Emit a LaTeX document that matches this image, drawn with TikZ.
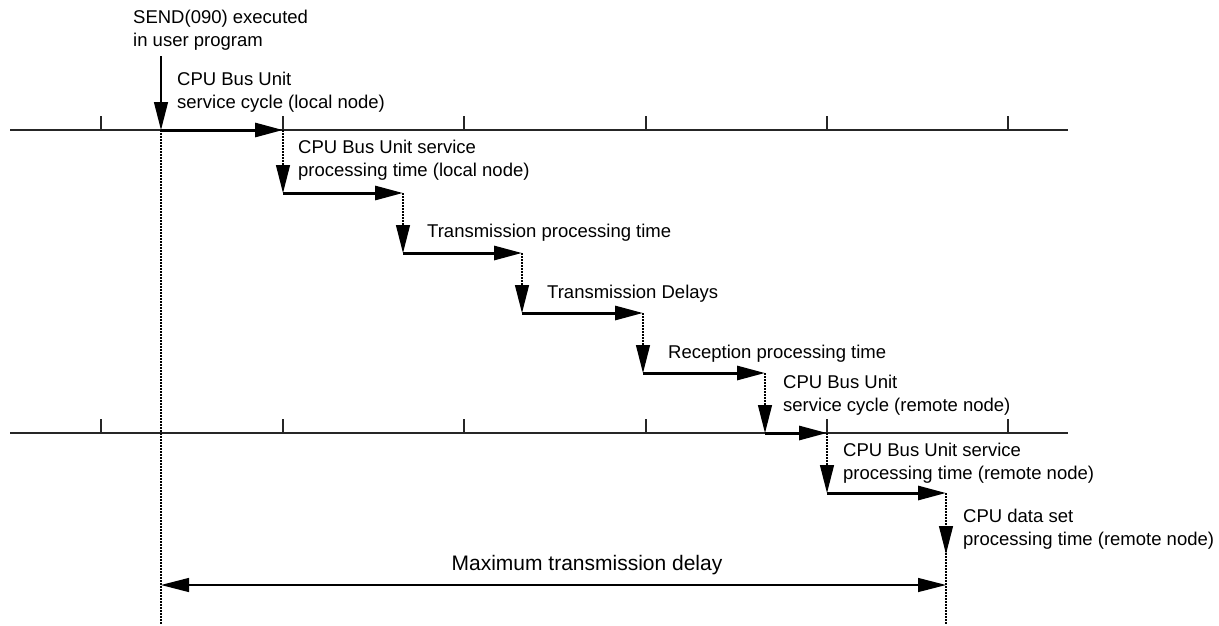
\documentclass[tikz,border=0pt]{standalone}
\usepackage{fontspec}
\setmainfont{Liberation Sans}
\usetikzlibrary{arrows.meta,positioning}
\tikzset{
  lbl/.style={anchor=base west,inner sep=0pt,align=left,font=\fontsize{18.5}{22.5}\selectfont},
  tline/.style={line width=1.3pt,black!85},
  stepline/.style={line width=3pt,-{Triangle[length=28pt,width=14pt]}},
  droparrow/.style={line width=1.2pt,dash pattern=on 1.5pt off 1.5pt,-{Triangle[length=28pt,width=14pt]}},
  guide/.style={line width=1.2pt,dash pattern=on 1.5pt off 1.5pt}
}

\begin{document}
\begin{tikzpicture}[x=1pt,y=-1pt]
  \useasboundingbox (0,0) rectangle (1219,625);
  % time axes
  \draw[tline] (10,130) -- (1068,130);
  \draw[tline] (10,433) -- (1068,433);
  \foreach \tx in {101,283,464,646,827,1008}{
    \draw[tline] (\tx,130) -- (\tx,116);
    \draw[tline] (\tx,433) -- (\tx,419);
  }
  % step points
  \coordinate (send) at (161,56);
  \coordinate (c0)  at (161,130);
  \coordinate (c1)  at (283,130);
  \coordinate (c1b) at (283,193);
  \coordinate (c2)  at (403,193);
  \coordinate (c2b) at (403,253);
  \coordinate (c3)  at (522,253);
  \coordinate (c3b) at (522,313);
  \coordinate (c4)  at (643,313);
  \coordinate (c4b) at (643,373);
  \coordinate (c5)  at (765,373);
  \coordinate (c5b) at (765,433);
  \coordinate (c6)  at (827,433);
  \coordinate (c6b) at (827,493);
  \coordinate (c7)  at (946,493);
  \coordinate (c7b) at (946,554);
  \coordinate (lowL) at (161,625);
  \coordinate (lowR) at (946,625);
  \coordinate (dL) at (161,585);
  \coordinate (dR) at (946,585);
  % labels (base = last line)
  \node[lbl] (sendlbl) at (133,46) {SEND(090) executed\\in user program};
  \node[lbl] (cyclocal) at (177,108) {CPU Bus Unit\\service cycle (local node)};
  \node[lbl] (svclocal) at (298,176) {CPU Bus Unit service\\processing time (local node)};
  \node[lbl] (txproc) at (427,237) {Transmission processing time};
  \node[lbl] (txdelay) at (547,298) {Transmission Delays};
  \node[lbl] (rxproc) at (668,358) {Reception processing time};
  \node[lbl] (cycremote) at (783,411) {CPU Bus Unit\\service cycle (remote node)};
  \node[lbl] (svcremote) at (843,479) {CPU Bus Unit service\\processing time (remote node)};
  \node[lbl] (dataset) at (963,545) {CPU data set\\processing time (remote node)};
  \node[anchor=base,inner sep=0pt,font=\fontsize{21}{25}\selectfont] (maxlbl) at (587,570) {Maximum transmission delay};
  % guide lines
  \draw[guide] (c0) -- (lowL);
  \draw[guide] (c7) -- (lowR);
  % staircase
  \draw[line width=1.3pt,-{Triangle[length=28pt,width=14pt]}] (send) -- (c0);
  \draw[stepline] (c0) -- (c1);
  \draw[droparrow] (c1) -- (c1b);
  \draw[stepline] (c1b) -- (c2);
  \draw[droparrow] (c2) -- (c2b);
  \draw[stepline] (c2b) -- (c3);
  \draw[droparrow] (c3) -- (c3b);
  \draw[stepline] (c3b) -- (c4);
  \draw[droparrow] (c4) -- (c4b);
  \draw[stepline] (c4b) -- (c5);
  \draw[droparrow] (c5) -- (c5b);
  \draw[stepline] (c5b) -- (c6);
  \draw[droparrow] (c6) -- (c6b);
  \draw[stepline] (c6b) -- (c7);
  \draw[droparrow] (c7) -- (c7b);
  % total delay
  \draw[line width=1.3pt,{Triangle[length=28pt,width=14pt]}-{Triangle[length=28pt,width=14pt]}] (dL) -- (dR);
\end{tikzpicture}
\end{document}
